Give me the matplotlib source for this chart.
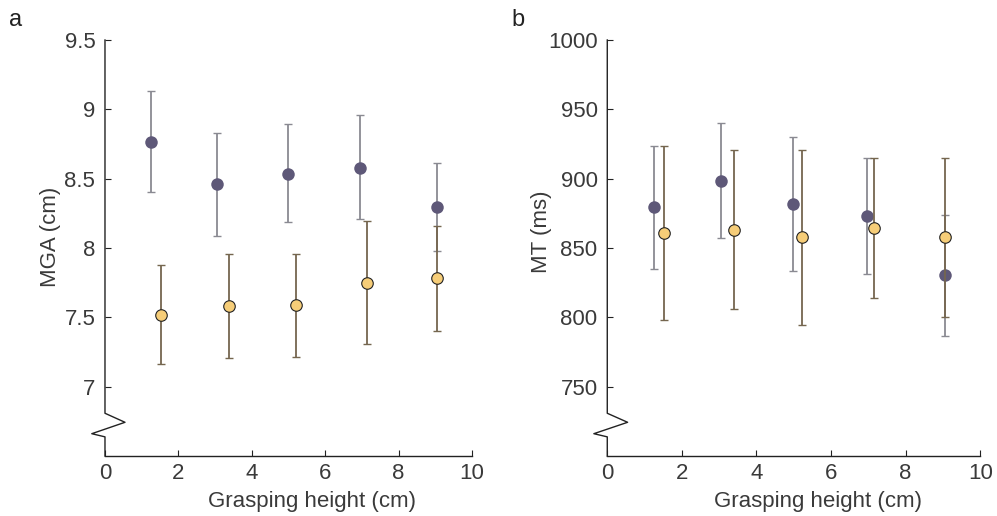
import matplotlib
matplotlib.use("Agg")
import matplotlib.pyplot as plt

plt.rcParams['font.family'] = ['Liberation Sans', 'DejaVu Sans']

# Panel a: MGA (cm)
a_x_purple = [1.25, 3.05, 4.99, 6.95, 9.05]
a_y_purple = [8.767, 8.458, 8.537, 8.580, 8.294]
a_hi_purple = [9.135, 8.828, 8.893, 8.960, 8.612]
a_lo_purple = [8.403, 8.086, 8.187, 8.208, 7.977]

a_x_yellow = [1.53, 3.39, 5.21, 7.14, 9.05]
a_y_yellow = [7.519, 7.584, 7.589, 7.749, 7.780]
a_hi_yellow = [7.874, 7.958, 7.960, 8.194, 8.160]
a_lo_yellow = [7.163, 7.209, 7.216, 7.307, 7.398]

# Panel b: MT (ms)
b_x_purple = [1.25, 3.06, 4.99, 6.96, 9.05]
b_y_purple = [879.3, 898.5, 882.0, 873.1, 830.2]
b_hi_purple = [923.7, 940.0, 930.4, 914.6, 873.6]
b_lo_purple = [834.9, 857.0, 833.7, 831.3, 786.7]

b_x_yellow = [1.51, 3.39, 5.22, 7.14, 9.05]
b_y_yellow = [860.9, 863.0, 858.0, 864.2, 857.7]
b_hi_yellow = [923.7, 920.4, 920.8, 915.1, 914.6]
b_lo_yellow = [797.8, 805.7, 794.6, 813.6, 800.4]

a_yticks = [7, 7.5, 8, 8.5, 9, 9.5]
a_yticklabels = ['7', '7.5', '8', '8.5', '9', '9.5']
b_yticks = [750, 800, 850, 900, 950, 1000]
b_yticklabels = ['750', '800', '850', '900', '950', '1000']
xticks = [0, 2, 4, 6, 8, 10]

PURPLE = '#5e5878'
PURPLE_ERR = '#8a8a92'
YELLOW = '#f6cd78'
YELLOW_ERR = '#75664f'
TXT = '#3a3a3a'
FS = 16

fig = plt.figure(figsize=(9.97, 5.16), dpi=100)
ax_a = fig.add_axes([0.1053, 0.1163, 0.3681, 0.8062])
ax_b = fig.add_axes([0.6091, 0.1163, 0.3741, 0.8062])


def draw(ax, xp, yp, hp, lp, xy, yy, hy, ly, ylim, yticks, yticklabels, ylabel, label_xy, letter, letter_x):
    ax.errorbar(xp, yp, yerr=[[y - l for y, l in zip(yp, lp)], [h - y for y, h in zip(yp, hp)]],
                fmt='none', ecolor=PURPLE_ERR, elinewidth=1.3, capsize=3, capthick=1.0, zorder=2)
    ax.plot(xp, yp, 'o', color=PURPLE, markersize=9, markeredgewidth=0, zorder=3)
    ax.errorbar(xy, yy, yerr=[[y - l for y, l in zip(yy, ly)], [h - y for y, h in zip(yy, hy)]],
                fmt='none', ecolor=YELLOW_ERR, elinewidth=1.3, capsize=3, capthick=1.0, zorder=4)
    ax.plot(xy, yy, 'o', color=YELLOW, markersize=8.3, markeredgecolor='#222222',
            markeredgewidth=0.8, zorder=5)
    ax.set_xlim(0, 10)
    ax.set_ylim(*ylim)
    for s in ['top', 'right', 'left']:
        ax.spines[s].set_visible(False)
    ax.spines['bottom'].set_color('#222222')
    ax.spines['bottom'].set_linewidth(1.0)
    ax.set_xticks(xticks)
    ax.set_xticklabels([str(t) for t in xticks])
    ax.set_yticks(yticks)
    ax.set_yticklabels(yticklabels)
    ax.tick_params(direction='in', length=4, width=0.8, colors='#222222',
                   labelcolor=TXT, labelsize=FS, pad=5)
    ax.tick_params(axis='y', pad=7)
    # left axis with break (zigzag)
    lo, hi = ylim
    span = hi - lo
    yb = [hi, lo + span * 0.1027, lo + span * 0.0810, lo + span * 0.0536, lo + span * 0.0460, lo]
    xb = [0, 0, 0.545, -0.36, 0, 0]
    ax.plot(xb, yb, color='#222222', lw=1.0, clip_on=False, zorder=6)
    ax.set_xlabel('Grasping height (cm)', fontsize=FS, color=TXT)
    ax.xaxis.set_label_coords(0.564, -0.083)
    ax.set_ylabel(ylabel, fontsize=FS, color=TXT)
    ax.yaxis.set_label_coords(*label_xy)
    fig.text(letter_x, 0.962, letter, fontsize=17, color='#222222', ha='left', va='center')


draw(ax_a, a_x_purple, a_y_purple, a_hi_purple, a_lo_purple,
     a_x_yellow, a_y_yellow, a_hi_yellow, a_lo_yellow,
     (6.5, 9.5), a_yticks, a_yticklabels, 'MGA (cm)', (-0.120, 0.527), 'a', 0.009)
draw(ax_b, b_x_purple, b_y_purple, b_hi_purple, b_lo_purple,
     b_x_yellow, b_y_yellow, b_hi_yellow, b_lo_yellow,
     (700, 1000), b_yticks, b_yticklabels, 'MT (ms)', (-0.148, 0.538), 'b', 0.513)

fig.savefig('out.png', dpi=100)
